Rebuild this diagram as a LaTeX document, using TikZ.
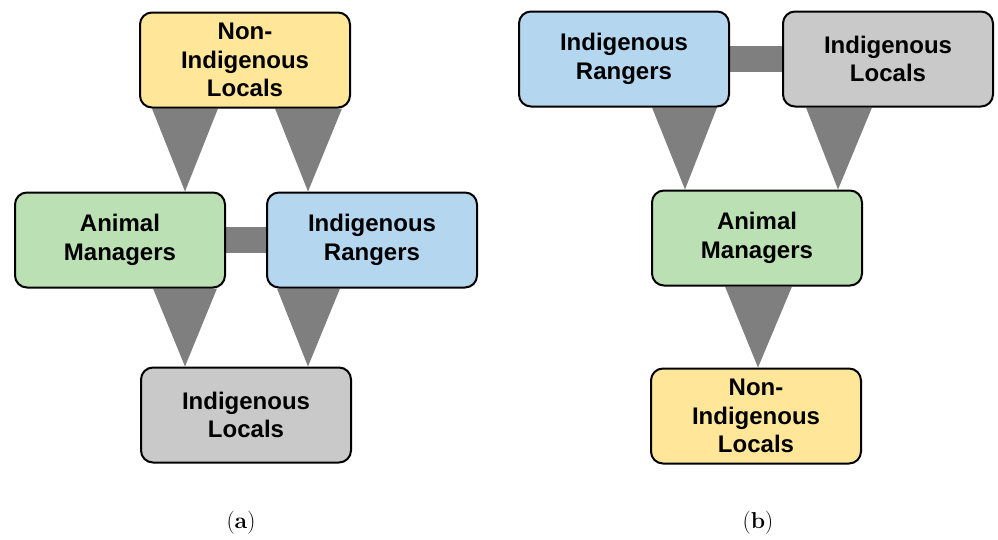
\documentclass[tikz,border=0pt]{standalone}
\usepackage{fontspec}
\newfontfamily\boxfont{Liberation Sans}
\usetikzlibrary{backgrounds}
\definecolor{LocalYellow}{RGB}{255,230,153}
\definecolor{ManagerGreen}{RGB}{187,224,180}
\definecolor{RangerBlue}{RGB}{180,214,238}
\definecolor{LocalGray}{RGB}{201,201,201}
\definecolor{LinkGray}{RGB}{127,127,127}
\tikzset{
  group box/.style={
    draw=black,
    line width=2pt,
    rounded corners=12pt,
    minimum width=210pt,
    minimum height=95pt,
    align=center,
    inner sep=2pt,
    font=\boxfont\bfseries\fontsize{24}{28.5}\selectfont,
  },
  nil box/.style={group box,fill=LocalYellow},
  am box/.style={group box,fill=ManagerGreen},
  ir box/.style={group box,fill=RangerBlue},
  il box/.style={group box,fill=LocalGray},
  wedge/.style={fill=LinkGray},
  bar/.style={draw=LinkGray,line width=26pt},
  caption/.style={font=\fontsize{23}{26}\selectfont},
}

\begin{document}
\begin{tikzpicture}[x=1pt,y=-1pt]
\useasboundingbox (0,0) rectangle (998,539);

% (a) two-level hierarchy
\node[nil box] (nilA) at (245,60) {Non-\\Indigenous\\Locals};
\node[am box] (amA) at (120,240) {Animal\\Managers};
\node[ir box] (irA) at (372,240) {Indigenous\\Rangers};
\node[il box] (ilA) at (246,415) {Indigenous\\Locals};

% (b) chain
\node[ir box] (irB) at (624,59) {Indigenous\\Rangers};
\node[il box] (ilB) at (888,59) {Indigenous\\Locals};
\node[am box] (amB) at (757,238) {Animal\\Managers};
\node[nil box] (nilB) at (756,416) {Non-\\Indigenous\\Locals};

\begin{scope}[on background layer]
  \draw[bar] (amA) -- (irA);
  \draw[bar] (irB) -- (ilB);
  \foreach \a/\b/\l/\r/\t in {nilA/amA/152/218/185,nilA/irA/275/342/308,
      amA/ilA/153/217/185,irA/ilA/277/340/308,
      irB/amB/652/717/685,ilB/amB/806/872/838,amB/nilB/725/792/758}
    \fill[wedge] (\l,0 |- \a.south) -- (\r,0 |- \a.south) -- (\t,0 |- \b.north) -- cycle;
\end{scope}

\node[caption] (capA) at (241,523) {(\textbf{a})};
\node[caption] (capB) at (758,523) {(\textbf{b})};

\end{tikzpicture}
\end{document}
